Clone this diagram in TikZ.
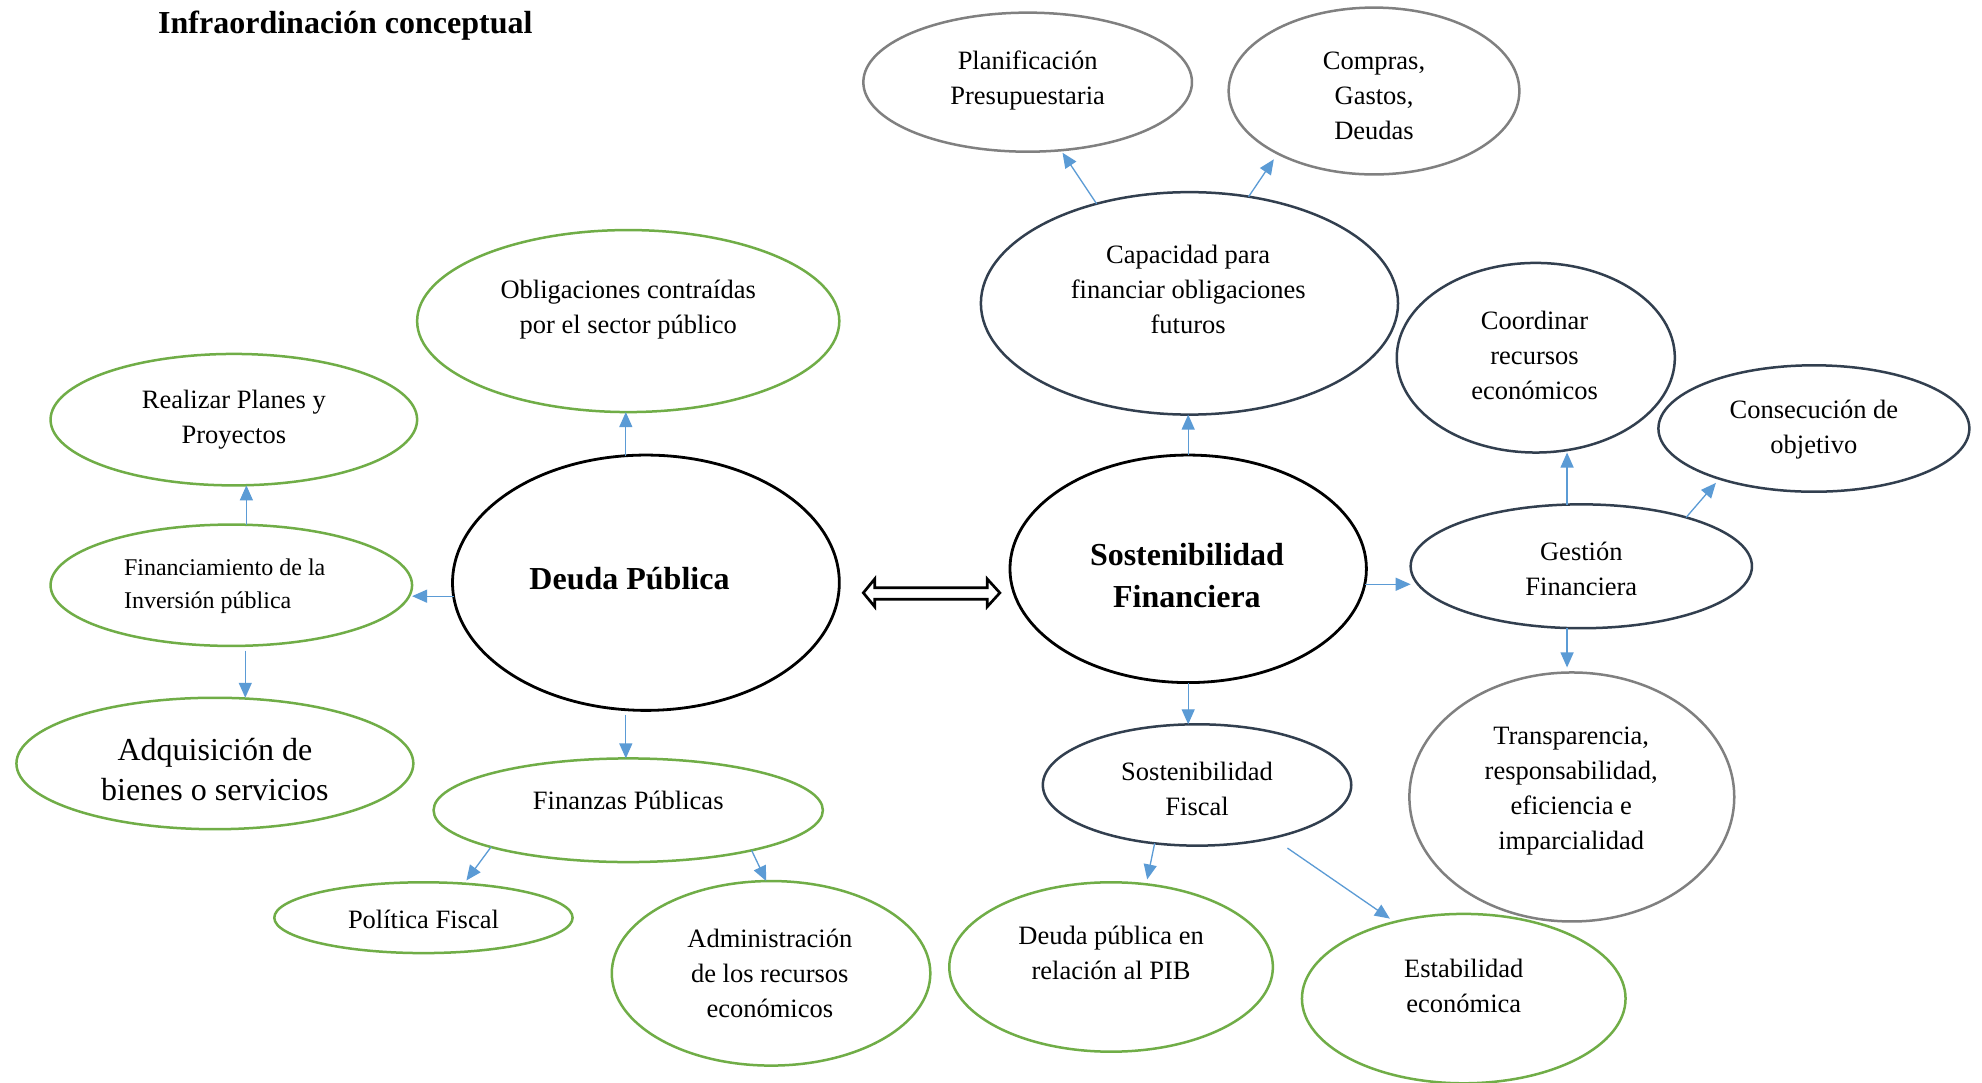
\documentclass[tikz,border=0pt]{standalone}
\usepackage{fontspec}
\setmainfont{Liberation Serif}
\usetikzlibrary{shapes.geometric,arrows.meta}
\newcommand\px{1.264pt}
\definecolor{grn}{HTML}{70AD47}
\definecolor{nvy}{HTML}{323F4F}
\definecolor{gry}{HTML}{808080}
\definecolor{blu}{HTML}{5B9BD5}
\begin{document}
\begin{tikzpicture}[x=1.264pt, y=-1.264pt,
  el/.style 2 args={ellipse, inner sep=0pt, outer sep=0pt, minimum width=2*#1*\px, minimum height=2*#2*\px},
  gn/.style={draw=grn, line width=2.5pt},
  nv/.style={draw=nvy, line width=2.5pt},
  gy/.style={draw=gry, line width=2.5pt},
  bk/.style={draw=black, line width=2.8pt},
  txt/.style={align=center, inner sep=0pt, font=\fontsize{26.5}{35}\selectfont},
  bigbold/.style={font=\fontsize{32}{42}\selectfont\bfseries},
  arr/.style={draw=blu, line width=1.3pt, -{Triangle[length=15pt,width=13pt]}}
]
\useasboundingbox (0,0) rectangle (1568,856);
\fill[white] (0,0) rectangle (1568,856);

% title
\node[anchor=west, inner sep=0pt, font=\fontsize{32}{38}\selectfont\bfseries] (title) at (125,20) {Infraordinación conceptual};

% ellipses and texts
\node[el={130}{55}, gy] (plan) at (813,65) {};
\node[txt] (plant) at (813,64) {Planificación\\Presupuestaria};
\node[el={115}{66}, gy] (comp) at (1087,72) {};
\node[txt] (compt) at (1087,76) {Compras,\\Gastos,\\Deudas};
\node[el={165}{88}, nv] (cap) at (941,240) {};
\node[txt] (capt) at (940,229) {Capacidad para\\financiar obligaciones\\futuros};
\node[el={167}{72}, gn] (obl) at (497,254) {};
\node[txt] (oblt) at (497,245) {Obligaciones contraídas\\por el sector público};
\node[el={145}{52}, gn] (real) at (185,332) {};
\node[txt] (realt) at (185,332) {Realizar Planes y\\Proyectos};
\node[el={110}{75}, nv] (coor) at (1215,283) {};
\node[txt] (coort) at (1214,281) {Coordinar\\recursos\\económicos};
\node[el={123}{50}, nv] (cons) at (1435,339) {};
\node[txt] (const) at (1435,340) {Consecución de\\objetivo};
\node[el={153}{101}, bk] (deuda) at (511,461) {};
\node[txt, bigbold] (deudat) at (498,458) {Deuda Pública};
\node[el={141}{90}, bk] (sfin) at (940,450) {};
\node[txt, bigbold] (sfint) at (939,455) {Sostenibilidad\\Financiera};
\node[el={143}{48}, gn] (fin) at (183,463) {};
\node[txt, align=left, anchor=west, font=\fontsize{24}{33}\selectfont] (fint) at (98,464) {Financiamiento de la\\Inversión pública};
\node[el={135}{49}, nv] (gest) at (1251,448) {};
\node[txt] (gestt) at (1251,450) {Gestión\\Financiera};
\node[el={157}{52}, gn] (adq) at (170,604) {};
\node[txt, font=\fontsize{32}{40}\selectfont] (adqt) at (170,609) {Adquisición de\\bienes o servicios};
\node[el={154}{41}, gn] (finz) at (497,641) {};
\node[txt] (finzt) at (497,633) {Finanzas Públicas};
\node[el={122}{48}, nv] (sfis) at (947,621) {};
\node[txt] (sfist) at (947,624) {Sostenibilidad\\Fiscal};
\node[el={128.5}{98.5}, gy] (trans) at (1243.5,630.5) {};
\node[txt] (transt) at (1243,626) {Transparencia,\\responsabilidad,\\eficiencia e\\imparcialidad};
\node[el={118}{28}, gn] (pol) at (335,726) {};
\node[txt] (polt) at (335,727) {Política Fiscal};
\node[el={126}{73}, gn] (adm) at (610,770) {};
\node[txt] (admt) at (609,770) {Administración\\de los recursos\\económicos};
\node[el={128}{67}, gn] (pib) at (879,765) {};
\node[txt] (pibt) at (879,754) {Deuda pública en\\relación al PIB};
\node[el={128}{67}, gn] (est) at (1158,790) {};
\node[txt] (estt) at (1158,780) {Estabilidad\\económica};

% double arrow between the two main concepts
\draw[line width=2.7pt, fill=white, line join=miter] (683,469) -- (692,458) -- (692,465) -- (781,465) -- (781,458) -- (791,469) -- (781,480) -- (781,474) -- (692,474) -- (692,480) -- cycle;

% connectors
\draw[arr] (deuda.99) -- (deuda.99 |- obl.south);
\draw[arr] (sfin.north) -- (sfin.north |- cap.south);
\draw[arr, shorten >=3pt] (cap.133) -- (plan.296);
\draw[arr, shorten >=7pt] (cap.61) -- (comp.213);
\draw[arr] (fin.76) -- (fin.76 |- real.south);
\draw[arr] (deuda.184) -- (deuda.184 -| fin.east);
\draw[arr, shorten <=5pt] (fin.283) -- (fin.283 |- adq.north);
\draw[arr, shorten <=5pt] (deuda.261) -- (deuda.261 |- finz.north);
\draw[arr, shorten >=4pt] (finz.195) -- (pol.40.5);
\draw[arr] (finz.342) -- (adm.93);
\draw[arr] (sfin.355.5) -- (sfin.355.5 -| gest.west);
\draw[arr] (gest.103) -- (gest.103 |- coor.south);
\draw[arr, shorten >=5.5pt] (gest.25) -- (cons.208);
\draw[arr, shorten >=5pt] (gest.257) -- (gest.257 |- trans.north);
\draw[arr] (sfin.south) -- (sfin.south |- sfis.north);
\draw[arr, shorten >=5pt] (sfis.234) -- (pib.67);
\draw[arr, shorten <=18pt, shorten >=6pt] (sfis.325.6) -- (est.132.2);
\end{tikzpicture}
\end{document}
